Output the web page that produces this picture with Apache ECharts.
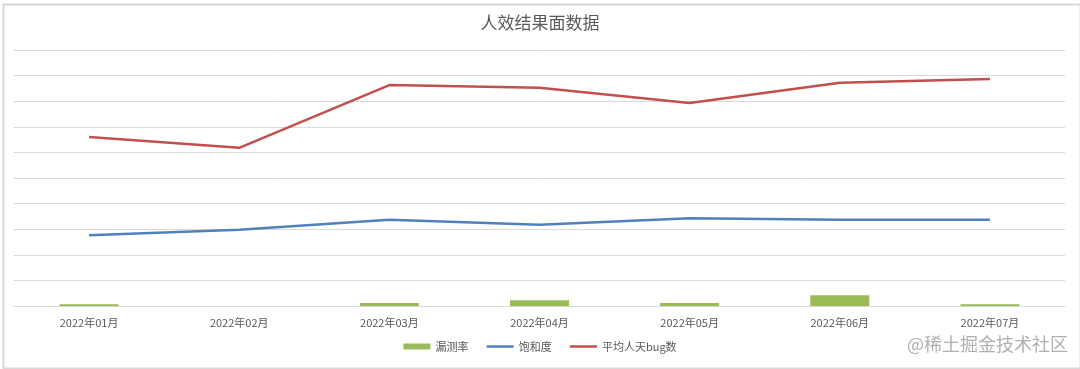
<!DOCTYPE html>
<html>
<head>
<meta charset="utf-8">
<script src="https://cdn.jsdelivr.net/npm/echarts@6/dist/echarts.min.js"></script>
<style>html,body{margin:0;padding:0;background:#fff}#c{width:1080px;height:369px}</style>
</head>
<body>
<div id="c"></div>
<script>
const categories = ['2022年01月','2022年02月','2022年03月','2022年04月','2022年05月','2022年06月','2022年07月'];
const missRate = [0.065, 0, 0.12, 0.22, 0.12, 0.42, 0.065];
const saturation = [2.76, 2.98, 3.37, 3.17, 3.43, 3.37, 3.37];
const avgBugs = [6.6, 6.18, 8.63, 8.53, 7.93, 8.72, 8.87];

const chart = echarts.init(document.getElementById('c'));
const font = '"Noto Sans CJK SC", "Noto Sans", sans-serif';
chart.setOption({
  animation: false,
  backgroundColor: '#fff',
  title: {
    text: '人效结果面数据', left: 'center', top: 9,
    textStyle: { fontFamily: font, fontSize: 17, fontWeight: 'normal', color: '#595959' }
  },
  legend: {
    bottom: 12, left: 'center', itemGap: 17, itemWidth: 27, itemHeight: 6,
    textStyle: { fontFamily: font, fontSize: 11, color: '#595959' },
    data: [
      { name: '漏测率', icon: 'rect' },
      { name: '饱和度', itemStyle: { opacity: 0 }, lineStyle: { width: 2.5 } },
      { name: '平均人天bug数', itemStyle: { opacity: 0 }, lineStyle: { width: 2.5 } }
    ]
  },
  grid: { left: 14, right: 15, top: 50, bottom: 63, containLabel: false },
  xAxis: {
    type: 'category', data: categories,
    axisLine: { lineStyle: { color: '#d9d9d9', width: 1 } },
    axisTick: { show: false },
    axisLabel: { fontFamily: font, fontSize: 11, color: '#595959', margin: 11 }
  },
  yAxis: {
    type: 'value', min: 0, max: 10, interval: 1,
    axisLabel: { show: false }, axisLine: { show: false }, axisTick: { show: false },
    splitLine: { lineStyle: { color: '#d9d9d9', width: 1 } }
  },
  series: [
    { name: '漏测率', type: 'bar', data: missRate, barWidth: 59, itemStyle: { color: '#9BBB59' } },
    { name: '饱和度', type: 'line', data: saturation, symbol: 'none', lineStyle: { color: '#4F81BD', width: 2.5 }, itemStyle: { color: '#4F81BD' } },
    { name: '平均人天bug数', type: 'line', data: avgBugs, symbol: 'none', lineStyle: { color: '#C0504D', width: 2.5 }, itemStyle: { color: '#C0504D' } }
  ],
  graphic: [
    { type: 'rect', left: 1, top: 2, shape: { width: 1077, height: 364 }, style: { fill: 'none', stroke: '#d9d9d9', lineWidth: 2 }, silent: true },
    { type: 'text', right: 12, top: 335, style: { text: '@稀土掘金技术社区', font: '18px ' + font, fill: '#b0b0b0' } }
  ]
});
</script>
</body>
</html>
